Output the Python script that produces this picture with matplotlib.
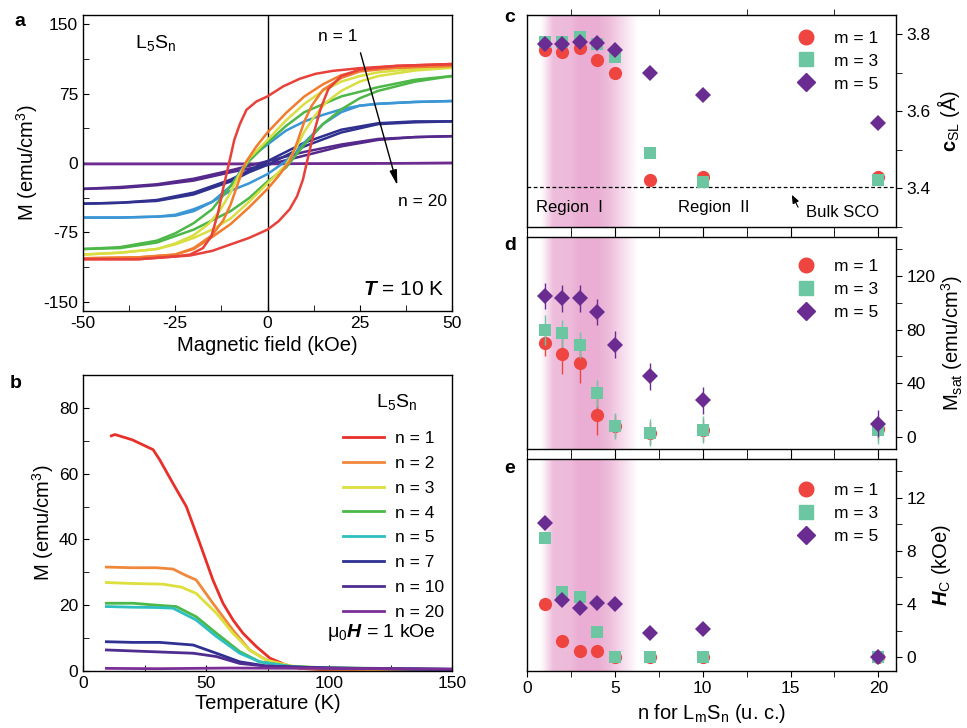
import numpy as np
import matplotlib
matplotlib.use('Agg')
import matplotlib.pyplot as plt
from matplotlib.ticker import MultipleLocator
from matplotlib.lines import Line2D

plt.rcParams['font.family'] = ['Liberation Sans', 'DejaVu Sans']
plt.rcParams['mathtext.fontset'] = 'custom'
plt.rcParams['mathtext.rm'] = 'Liberation Sans'
plt.rcParams['mathtext.it'] = 'Liberation Sans:italic'
plt.rcParams['mathtext.bf'] = 'Liberation Sans:bold'
plt.rcParams['mathtext.bfit'] = 'Liberation Sans:italic:bold'
plt.rcParams['axes.linewidth'] = 1.0
plt.rcParams['axes.unicode_minus'] = False

# ---- panel a: M(H) loops at 10 K (descending / ascending branches) ----
loop_n = [1, 2, 3, 4, 5, 7, 10, 20]
loop_colors = ['#E8403A', '#F07C30', '#D9DE42', '#4DB748', '#3A96D4', '#30318F', '#55298C', '#6E2C91']

h_dn_1 = [50, 35, 25, 17.7, 13, 8.7, 4.2, 0, -3, -5.7, -7.5, -9, -9.8, -11, -12.1, -13.4, -15.2, -17.5, -21, -25, -35, -50]
m_dn_1 = [107, 105, 102.5, 99.6, 96.4, 91, 82.7, 72, 66.5, 57.5, 42, 25, 10.8, -10, -29, -54, -79, -92, -99, -101, -104, -104]
h_up_1 = [-50, -35, -21, -15, -10, -5, 0, 3, 6, 8, 9.6, 11.2, 12.8, 14.5, 16.5, 20, 25, 35, 50]
m_up_1 = [-104, -104, -100, -95, -88, -81, -72, -63, -50, -36, -18, 10, 36, 60, 80, 94, 101, 105, 107]

h_dn_2 = [50, 40, 30, 25, 20, 15, 10, 5, 0, -3, -6, -8, -10, -12, -15, -20, -25, -35, -50]
m_dn_2 = [105, 104, 102, 100, 95, 85, 72, 54, 33, 18, 0, -22, -45, -62, -78, -92, -99, -102, -103]
h_up_2 = [-50, -35, -25, -20, -15, -10, -5, 0, 3, 6, 8, 10, 12, 15, 20, 25, 35, 50]
m_up_2 = [-103, -102, -99, -93, -80, -66, -48, -28, -14, 2, 22, 45, 62, 79, 92, 99, 103, 105]

h_dn_3 = [50, 40, 30, 25, 20, 15, 10, 5, 0, -5, -8, -10, -13, -16, -20, -25, -30, -40, -50]
m_dn_3 = [103, 102, 98, 94, 88, 78, 64, 46, 25, 5, -15, -32, -52, -66, -78, -87, -93, -97, -99]
h_up_3 = [-50, -40, -30, -25, -20, -15, -10, -5, 0, 5, 8, 10, 13, 16, 20, 25, 30, 40, 50]
m_up_3 = [-99, -97, -93, -88, -81, -72, -60, -42, -22, -2, 18, 34, 52, 66, 78, 88, 94, 100, 103]

h_dn_4 = [50, 40, 30, 20, 10, 5, 0, -5, -10, -15, -20, -25, -30, -40, -50]
m_dn_4 = [94, 90, 82, 72, 55, 40, 22, 2, -25, -50, -65, -76, -84, -91, -93]
h_up_4 = [-50, -40, -30, -20, -10, -5, 0, 5, 10, 15, 20, 25, 30, 40, 50]
m_up_4 = [-93, -92, -86, -72, -52, -38, -20, -5, 20, 42, 58, 70, 78, 88, 94]

h_dn_5 = [50, 40, 30, 25, 20, 15, 10, 5, 0, -5, -10, -15, -20, -25, -30, -40, -50]
m_dn_5 = [67, 66, 64, 62, 58, 52, 45, 35, 20, 5, -25, -42, -52, -57, -58, -59, -59]
h_up_5 = [-50, -40, -30, -25, -20, -15, -10, -5, 0, 5, 10, 15, 20, 25, 30, 40, 50]
m_up_5 = [-59, -59, -58, -56, -50, -42, -30, -22, -12, 2, 22, 42, 55, 62, 64, 66, 67]

h_dn_7 = [50, 40, 30, 20, 10, 5, 0, -5, -10, -20, -30, -40, -50]
m_dn_7 = [45, 45, 43, 36, 22, 12, 2, -8, -18, -32, -40, -43, -44]
h_up_7 = [-50, -40, -30, -20, -10, -5, 0, 5, 10, 20, 30, 40, 50]
m_up_7 = [-44, -43, -41, -34, -20, -10, -2, 8, 18, 33, 42, 44, 45]

h_dn_10 = [50, 40, 30, 20, 10, 0, -10, -20, -30, -40, -50]
m_dn_10 = [29, 28, 26, 20, 12, 2, -8, -17, -23, -26, -28]
h_up_10 = [-50, -40, -30, -20, -10, 0, 10, 20, 30, 40, 50]
m_up_10 = [-28, -27, -24, -19, -10, -2, 8, 18, 25, 28, 29]

h_dn_20 = [50, 0, -50]
m_dn_20 = [0, -1, -1]
h_up_20 = [-50, 0, 50]
m_up_20 = [-1, -1, 0]

loops = [(h_dn_1, m_dn_1, h_up_1, m_up_1), (h_dn_2, m_dn_2, h_up_2, m_up_2),
         (h_dn_3, m_dn_3, h_up_3, m_up_3), (h_dn_4, m_dn_4, h_up_4, m_up_4),
         (h_dn_5, m_dn_5, h_up_5, m_up_5), (h_dn_7, m_dn_7, h_up_7, m_up_7),
         (h_dn_10, m_dn_10, h_up_10, m_up_10), (h_dn_20, m_dn_20, h_up_20, m_up_20)]

# ---- panel b: M(T) at 1 kOe ----
mt_colors = ['#E8302A', '#F0883C', '#DCDF3C', '#4CB848', '#2EC0C0', '#2E3192', '#4F2C8F', '#7A2F96']
t_1 = [11.5, 13, 20, 28.5, 31.2, 36.6, 42, 47.4, 52.8, 56.9, 61, 65, 70.5, 76, 82.6, 88, 100, 120, 150]
mt_1 = [71.5, 71.9, 70.3, 67.3, 64.2, 57, 50, 39, 27.7, 20.6, 15.5, 11.5, 7.4, 3.9, 1.8, 0.8, 0.3, 0.1, 0]
t_2 = [9.5, 20, 29.8, 36.6, 42, 46, 52.8, 60.9, 67.7, 74.5, 81.3, 90, 100, 150]
mt_2 = [31.6, 31.4, 31.4, 31, 29, 27.7, 20.6, 12.5, 6.4, 3.4, 1.5, 0.8, 0.5, 0.3]
t_3 = [9.5, 20, 32.5, 40, 46, 54.2, 60.9, 67.7, 74.5, 85, 100, 150]
mt_3 = [26.9, 26.6, 26.4, 25.5, 23.6, 17.6, 11.5, 6.4, 3.3, 1.5, 0.8, 0.4]
t_4 = [9.5, 20.3, 30, 37.9, 46, 54.2, 63.7, 71.8, 85, 100, 150]
mt_4 = [20.6, 20.6, 20, 19.6, 16.5, 11.5, 5.9, 2.8, 1.3, 1.0, 0.5]
t_5 = [9.5, 20, 30, 36.6, 46, 54.2, 63.7, 71.8, 85, 100, 150]
mt_5 = [19.6, 19.4, 19.3, 19.1, 15.5, 10.5, 5.4, 2.8, 1.3, 0.9, 0.5]
t_7 = [9.5, 20.3, 31.2, 44.8, 54.2, 63.7, 74.5, 85, 100, 150]
mt_7 = [8.9, 8.7, 8.7, 7.9, 5.4, 2.8, 1.5, 1.2, 0.9, 0.5]
t_10 = [9.5, 27.1, 44.8, 54.2, 63.7, 74.5, 100, 150]
mt_10 = [6.4, 5.9, 5.4, 4.4, 2.3, 1.5, 0.9, 0.4]
t_20 = [9.5, 30, 60, 100, 150]
mt_20 = [0.8, 0.7, 0.9, 0.8, 0.6]
mt_curves = [(t_1, mt_1), (t_2, mt_2), (t_3, mt_3), (t_4, mt_4),
             (t_5, mt_5), (t_7, mt_7), (t_10, mt_10), (t_20, mt_20)]

# ---- panels c-e: vs n for m = 1, 3, 5 ----
n_vals = [1, 2, 3, 4, 5, 7, 10, 20]
c_m1 = [3.758, 3.753, 3.764, 3.733, 3.700, 3.422, 3.429, 3.430]
c_m3 = [3.781, 3.781, 3.792, 3.775, 3.740, 3.493, 3.417, 3.422]
c_m5 = [3.774, 3.774, 3.781, 3.777, 3.759, 3.700, 3.643, 3.571]
c_err = [0.012] * 8
bulk_sco = 3.404

msat_m1 = [70, 62, 55, 16.7, 8.2, 3, 5, 6]
msat_m3 = [79.5, 77.2, 68.5, 32.4, 8.2, 3, 5.5, 5]
msat_m5 = [105, 103.3, 103.3, 93.1, 68.7, 45.3, 27.4, 10]
msat_err_m1 = [10, 15, 15, 15, 8, 8, 8, 8]
msat_err_m3 = [11, 10, 10, 10, 10, 10, 10, 10]
msat_err_m5 = [10, 10, 10, 10, 10, 10, 10, 10]

hc_m1 = [4.0, 1.25, 0.5, 0.5, 0, 0, 0, 0]
hc_m3 = [9.0, 4.9, 4.5, 1.9, 0, 0, 0, 0]
hc_m5 = [10.07, 4.3, 3.7, 4.1, 4.0, 1.85, 2.1, 0]

m_labels = ['m = 1', 'm = 3', 'm = 5']
m_colors = ['#EE4540', '#6CC6A2', '#6A2C91']
m_markers = ['o', 's', 'D']
m_sizes = [9.5, 8.6, 7.8]

W, H = 967, 728
fig = plt.figure(figsize=(W / 100, H / 100), dpi=100)

def px_axes(x0, y0, x1, y1):
    return fig.add_axes([x0 / W, 1 - y1 / H, (x1 - x0) / W, (y1 - y0) / H])

TICK = 12.5
LAB = 14.5

# ---------------- a ----------------
ax = px_axes(83, 15, 452, 311)
for i in range(len(loops) - 1, -1, -1):
    hd, md, hu, mu = loops[i]
    ax.plot(hd, md, color=loop_colors[i], lw=1.8, solid_joinstyle='round')
    ax.plot(hu, mu, color=loop_colors[i], lw=1.8, solid_joinstyle='round')
ax.axvline(0, color='k', lw=1.0, zorder=0)
ax.set_xlim(-50, 50)
ax.set_ylim(-160, 160)
ax.set_yticks([-150, -75, 0, 75, 150])
ax.xaxis.set_major_locator(MultipleLocator(25))
ax.xaxis.set_minor_locator(MultipleLocator(12.5))
ax.yaxis.set_minor_locator(MultipleLocator(37.5))
ax.tick_params(which='both', direction='in', length=4, labelsize=TICK, top=False, right=False)
ax.set_xlabel('Magnetic field (kOe)', fontsize=LAB, labelpad=4)
ax.set_ylabel('M (emu/cm$^3$)', fontsize=LAB, labelpad=2)
ax.text(-36, 130, 'L$_5$S$_{\\rm n}$', fontsize=14, ha='left', va='center')
ax.text(19, 137, 'n = 1', fontsize=12.5, ha='center', va='center')
ax.text(42, -42, 'n = 20', fontsize=12.5, ha='center', va='center')
ax.text(48, -137, '$\\mathbfit{T}$ = 10 K', fontsize=15, ha='right', va='center')
ax.annotate('', xy=(35.4, -27), xytext=(25, 122),
            arrowprops=dict(arrowstyle='-|>,head_length=0.9,head_width=0.22', color='k', lw=1.0))

# ---------------- b ----------------
ax = px_axes(83, 375, 452, 671)
labels_b = ['n = %d' % n for n in loop_n]
for i, (t, m) in enumerate(mt_curves):
    ax.plot(t, m, color=mt_colors[i], lw=2.0, label=labels_b[i])
ax.set_xlim(0, 150)
ax.set_ylim(0, 90)
ax.xaxis.set_major_locator(MultipleLocator(50))
ax.xaxis.set_minor_locator(MultipleLocator(25))
ax.yaxis.set_major_locator(MultipleLocator(20))
ax.yaxis.set_minor_locator(MultipleLocator(10))
ax.tick_params(which='both', direction='in', length=4, labelsize=TICK, top=False, right=False)
ax.set_xlabel('Temperature (K)', fontsize=LAB, labelpad=2)
ax.set_ylabel('M (emu/cm$^3$)', fontsize=LAB, labelpad=2)
ax.legend(loc='upper left', bbox_to_anchor=(0.685, 0.835), frameon=False, fontsize=12.5,
          handlelength=2.4, handletextpad=0.6, labelspacing=0.56, borderaxespad=0)
ax.text(0.85, 0.91, 'L$_5$S$_{\\rm n}$', transform=ax.transAxes, fontsize=14, ha='center', va='center')
ax.text(0.81, 0.13, 'μ$_0$$\\mathbfit{H}$ = 1 kOe', transform=ax.transAxes, fontsize=14,
        ha='center', va='center')

# ---------------- c, d, e ----------------
band_x = np.linspace(0.7, 6.3, 300)
band_alpha = np.interp(band_x, [0.7, 0.9, 1.5, 2.5, 3.0, 4.0, 4.7, 5.5, 6.3],
                       [0.0, 0.1, 0.8, 0.85, 1.0, 1.0, 0.8, 0.4, 0.0])
band_img = np.zeros((1, len(band_x), 4))
band_img[..., 0] = 0.92
band_img[..., 1] = 0.68
band_img[..., 2] = 0.83
band_img[..., 3] = band_alpha

def right_panel(ax, ylim, bottom_labels):
    ax.imshow(band_img, extent=[0.7, 6.3, ylim[0], ylim[1]], aspect='auto', zorder=0,
              interpolation='bilinear')
    ax.set_xlim(0, 21)
    ax.set_ylim(*ylim)
    ax.xaxis.set_major_locator(MultipleLocator(5))
    ax.xaxis.set_minor_locator(MultipleLocator(2.5))
    ax.yaxis.tick_right()
    ax.yaxis.set_label_position('right')
    ax.tick_params(which='both', direction='out', length=4, labelsize=TICK,
                   left=False, right=True, top=True, bottom=True, labelbottom=bottom_labels)

def m_legend(ax, ytop):
    handles = [Line2D([], [], ls='none', marker=m_markers[k], color=m_colors[k],
                      markersize=m_sizes[k] + 1) for k in range(3)]
    ax.legend(handles, m_labels, loc='upper right', bbox_to_anchor=(0.97, ytop), frameon=False,
              fontsize=12.5, handletextpad=0.6, labelspacing=0.45, borderaxespad=0)

c_series = [c_m1, c_m3, c_m5]
ax = px_axes(527, 15, 896, 227)
right_panel(ax, (3.3, 3.85), False)
ax.tick_params(top=False)
for k in range(3):
    ax.errorbar(n_vals, c_series[k], yerr=c_err, ls='none', marker=m_markers[k], color=m_colors[k],
                ms=m_sizes[k], mew=0, elinewidth=1.0, capsize=0, zorder=3 + k)
ax.axhline(bulk_sco, color='k', ls=(0, (3, 2)), lw=0.9, zorder=2)
ax.yaxis.set_major_locator(MultipleLocator(0.2))
ax.yaxis.set_minor_locator(MultipleLocator(0.1))
ax.set_ylabel('$\\mathbf{c}_{\\rm SL}$ (Å)', fontsize=LAB, rotation=90, labelpad=3)
ax.text(0.5, 3.35, 'Region  I', fontsize=12, ha='left', va='center')
ax.text(8.6, 3.35, 'Region  II', fontsize=12, ha='left', va='center')
ax.text(15.9, 3.338, 'Bulk SCO', fontsize=12, ha='left', va='center')
ax.annotate('', xy=(15.0, 3.39), xytext=(15.5, 3.345),
            arrowprops=dict(arrowstyle='-|>,head_length=0.5,head_width=0.2', color='k', lw=0.8))
m_legend(ax, 0.96)

d_series = [msat_m1, msat_m3, msat_m5]
d_errs = [msat_err_m1, msat_err_m3, msat_err_m5]
ax = px_axes(527, 237, 896, 449)
right_panel(ax, (-9, 149), False)
for k in range(3):
    ax.errorbar(n_vals, d_series[k], yerr=d_errs[k], ls='none', marker=m_markers[k], color=m_colors[k],
                ms=m_sizes[k], mew=0, elinewidth=1.0, capsize=0, zorder=3 + k)
ax.yaxis.set_major_locator(MultipleLocator(40))
ax.yaxis.set_minor_locator(MultipleLocator(20))
ax.set_ylabel('M$_{\\rm sat}$ (emu/cm$^3$)', fontsize=LAB, rotation=90, labelpad=3)
m_legend(ax, 0.93)

e_series = [hc_m1, hc_m3, hc_m5]
ax = px_axes(527, 459, 896, 671)
right_panel(ax, (-1.03, 14.9), True)
for k in range(3):
    ax.plot(n_vals, e_series[k], ls='none', marker=m_markers[k], color=m_colors[k],
            ms=m_sizes[k], mew=0, zorder=3 + k)
ax.yaxis.set_major_locator(MultipleLocator(4))
ax.yaxis.set_minor_locator(MultipleLocator(2))
ax.set_ylabel('$\\mathbfit{H}_{\\rm C}$ (kOe)', fontsize=LAB, rotation=90, labelpad=3)
ax.set_xlabel('n for L$_{\\rm m}$S$_{\\rm n}$ (u. c.)', fontsize=LAB, labelpad=4)
m_legend(ax, 0.92)

for lab, x, y in [('a', 20, 22), ('b', 16, 384), ('c', 510, 18), ('d', 510, 245), ('e', 510, 468)]:
    fig.text(x / W, 1 - y / H, lab, fontsize=14, fontweight='bold', ha='center', va='center')

fig.savefig('out.png', dpi=100)
